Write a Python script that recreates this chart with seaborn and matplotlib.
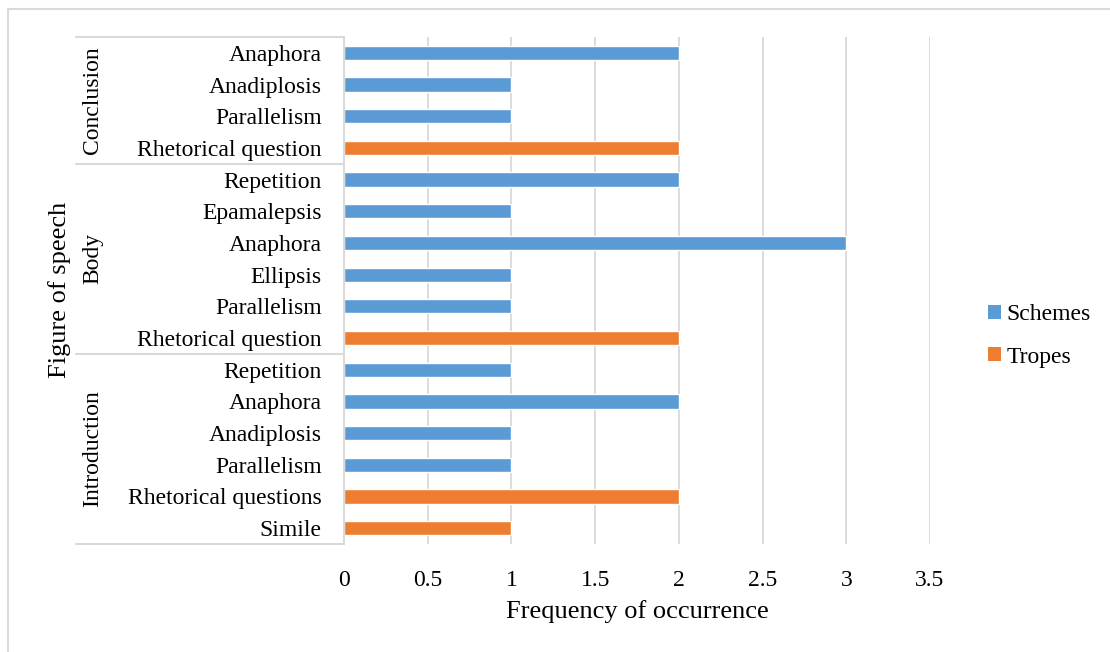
import matplotlib
matplotlib.use("Agg")
import matplotlib.pyplot as plt
import seaborn as sns
import pandas as pd
from matplotlib.patches import Patch
from matplotlib.lines import Line2D
import matplotlib.transforms as mtransforms

# ---- data (top to bottom) ----
sections = ["Conclusion"] * 4 + ["Body"] * 6 + ["Introduction"] * 6
figures = ["Anaphora", "Anadiplosis", "Parallelism", "Rhetorical question",
           "Repetition", "Epamalepsis", "Anaphora", "Ellipsis", "Parallelism", "Rhetorical question",
           "Repetition", "Anaphora", "Anadiplosis", "Parallelism", "Rhetorical questions", "Simile"]
types = ["Schemes", "Schemes", "Schemes", "Tropes",
         "Schemes", "Schemes", "Schemes", "Schemes", "Schemes", "Tropes",
         "Schemes", "Schemes", "Schemes", "Schemes", "Tropes", "Tropes"]
values = [2, 1, 1, 2,
          2, 1, 3, 1, 1, 2,
          1, 2, 1, 1, 2, 1]
x_ticks = [0, 0.5, 1, 1.5, 2, 2.5, 3, 3.5]
x_tick_labels = ["0", "0.5", "1", "1.5", "2", "2.5", "3", "3.5"]
series = ["Schemes", "Tropes"]
colors = {"Schemes": "#5B9BD5", "Tropes": "#ED7D31"}

df = pd.DataFrame({
    "row": [f"{i:02d}" for i in range(len(figures))],
    "section": sections, "figure": figures, "type": types, "value": values,
})

sns.set_theme(style="white")
plt.rcParams["font.family"] = ["Liberation Serif", "DejaVu Serif"]
plt.rcParams["text.color"] = "#000000"
plt.rcParams["axes.labelcolor"] = "#000000"

W, H = 1110, 652
fig = plt.figure(figsize=(W / 100, H / 100), dpi=100)
ax = fig.add_axes([344 / W, 1 - 544 / H, (930 - 344) / W, (544 - 37) / H])

sns.barplot(data=df, y="row", x="value", hue="type", hue_order=series,
            palette=colors, dodge=False, orient="h", width=0.45,
            order=df["row"].tolist(), ax=ax, legend=False, saturation=1)

ax.set_xlim(0, 3.5)
ax.set_ylim(len(figures) - 0.5, -0.5)
ax.set_xticks(x_ticks)
ax.set_xticklabels(x_tick_labels, fontsize=17)
ax.set_yticks(range(len(figures)))
ax.set_yticklabels(figures, fontsize=17)
ax.tick_params(axis="both", length=0, colors="#000000")
ax.tick_params(axis="x", pad=19)
ax.tick_params(axis="y", pad=16)
ax.xaxis.grid(True, color="#D9D9D9", linewidth=1.3)
ax.yaxis.grid(False)
ax.set_axisbelow(True)
for s in ["top", "right", "bottom"]:
    ax.spines[s].set_visible(False)
ax.spines["left"].set_color("#D9D9D9")
ax.spines["left"].set_linewidth(1.5)
ax.set_xlabel("Frequency of occurrence", fontsize=19, labelpad=6)
ax.set_ylabel("")

# group separators and labels
trans = mtransforms.blended_transform_factory(ax.transAxes, ax.transData)
x0 = (76 - 344) / (930 - 344)
bounds = [-0.5]
cur = sections[0]
for i, s in enumerate(sections):
    if s != cur:
        bounds.append(i - 0.5)
        cur = s
bounds.append(len(sections) - 0.5)
for b in bounds:
    ax.add_line(Line2D([x0, 0], [b, b], transform=trans, color="#D9D9D9",
                       linewidth=1.5, clip_on=False))
group_names = []
for s in sections:
    if s not in group_names:
        group_names.append(s)
xg = (93 - 344) / (930 - 344)
for k, g in enumerate(group_names):
    mid = (bounds[k] + bounds[k + 1]) / 2
    ax.text(xg, mid, g, transform=trans, rotation=90, ha="center", va="center",
            fontsize=17)

fig.text(60 / W, 1 - 290 / H, "Figure of speech", rotation=90, ha="center",
         va="center", fontsize=19)

# legend
handles = [Patch(facecolor=colors[s], edgecolor="none", label=s) for s in series]
fig.legend(handles=handles, loc="center left", bbox_to_anchor=(979 / W, 1 - 336 / H),
           frameon=False, fontsize=17, handlelength=0.55, handleheight=0.55,
           handletextpad=0.2, labelspacing=0.9, borderaxespad=0)

# outer chart border
fig.add_artist(Line2D([8 / W, 1], [1 - 9 / H, 1 - 9 / H], transform=fig.transFigure,
                      color="#D9D9D9", linewidth=1.5))
fig.add_artist(Line2D([8 / W, 8 / W], [0, 1 - 9 / H], transform=fig.transFigure,
                      color="#D9D9D9", linewidth=1.5))

fig.savefig("out.png", dpi=100, facecolor="white")
